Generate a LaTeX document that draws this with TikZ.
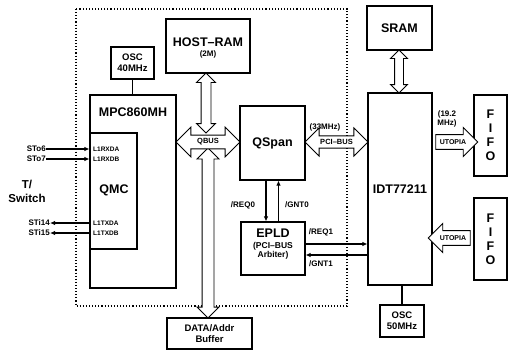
\documentclass[tikz,border=0pt]{standalone}
\usepackage{fontspec}
\setmainfont{Liberation Sans}
\usetikzlibrary{arrows.meta,positioning,shapes.arrows}

\begin{document}
\begin{tikzpicture}[x=1pt,y=-1pt,>=Latex,font=\bfseries]
\tikzset{box/.style={draw,line width=1.1pt,align=center,inner sep=0pt,fill=white},
  big/.style={font=\bfseries\fontsize{12.5}{14}\selectfont,inner sep=0pt,align=center},
  mid/.style={font=\bfseries\fontsize{9.5}{11}\selectfont,inner sep=0pt,align=center},
  lbl/.style={font=\bfseries\fontsize{8}{9}\selectfont,inner sep=0pt,align=center},
  pin/.style={font=\bfseries\fontsize{6.5}{7}\selectfont,inner sep=0pt,anchor=west},
  sig/.style={line width=1.2pt,-{Latex[length=5pt,width=4.5pt]}},
  fatbus/.style={draw,line width=0.9pt,fill=white,double arrow,double arrow head extend=8pt,
    inner xsep=0pt,inner ysep=3pt,font=\bfseries\fontsize{7.5}{8}\selectfont},
  fatlink/.style={draw,line width=0.9pt,fill=white,double arrow,inner xsep=0pt},
  fatutopia/.style={draw,line width=0.9pt,fill=white,single arrow,single arrow head extend=7pt,
    inner xsep=0pt,inner ysep=4.5pt,minimum height=42pt,font=\bfseries\fontsize{7}{8}\selectfont}}
\useasboundingbox (0,0) rectangle (509,351);
% board outline
\draw[dotted,line width=1.1pt] (76,9) rectangle (347,306);
% blocks
\node[box,minimum width=84pt,minimum height=54pt] (hostram) at (208,46) {};
\node[big] (hostramtxt) at (208,42) {HOST--RAM};
\node[lbl] (hostramsize) at (208,54) {(2M)};
\node[box,mid,minimum width=43pt,minimum height=32pt] (osca) at (132.5,63) {OSC\\40MHz};
\node[box,minimum width=86pt,minimum height=193pt] (mpc) at (133,191.5) {};
\node[big] (mpctxt) at (133,112) {MPC860MH};
\node[box,minimum width=47pt,minimum height=116pt] (qmc) at (113.5,191) {};
\node[big] (qmctxt) at (114,190) {QMC};
\node[pin] (rxa) at (93,149) {L1RXDA};
\node[pin] (rxb) at (93,159) {L1RXDB};
\node[pin] (txa) at (93,223) {L1TXDA};
\node[pin] (txb) at (93,233) {L1TXDB};
\node[box,big,minimum width=65pt,minimum height=74pt] (qspan) at (272.5,143) {QSpan};
\node[box,minimum width=64pt,minimum height=53pt] (epld) at (273,248.5) {};
\node[big] (epldtxt) at (273,233) {EPLD};
\node[lbl,font=\bfseries\fontsize{8.5}{9.5}\selectfont] (epldsub) at (273,251) {(PCI--BUS\\Arbiter)};
\node[box,big,minimum width=64pt,minimum height=192pt] (idt) at (400,189) {IDT77211};
\node[box,big,minimum width=65pt,minimum height=44pt] (sram) at (399.5,28) {SRAM};
\node[box,mid,minimum width=44pt,minimum height=32pt] (oscb) at (402,321) {OSC\\50MHz};
\node[box,big,minimum width=33pt,minimum height=81pt] (fifoa) at (490.5,135.5) {F\\I\\F\\O};
\node[box,big,minimum width=33pt,minimum height=82pt] (fifob) at (490.5,239) {F\\I\\F\\O};
\node[box,mid,minimum width=85pt,minimum height=31pt] (buffer) at (209.5,333.5) {DATA/Addr\\Buffer};
% T/Switch side
\node[font=\bfseries\fontsize{11.5}{14}\selectfont,inner sep=0pt,align=center] (tsw) at (27,191) {T/\\Switch};
\node[lbl,anchor=east] (sto6) at (46,149) {STo6};
\node[lbl,anchor=east] (sto7) at (46,159) {STo7};
\node[lbl,anchor=east] (sti14) at (50,223) {STi14};
\node[lbl,anchor=east] (sti15) at (50,233) {STi15};
\draw[sig] (sto6.east) -- (sto6.east -| qmc.west);
\draw[sig] (sto7.east) -- (sto7.east -| qmc.west);
\draw[sig] (sti14.east -| qmc.west) -- (sti14.east);
\draw[sig] (sti15.east -| qmc.west) -- (sti15.east);
% clocks
\draw[line width=1.2pt] (osca.south) -- (osca.south |- mpc.north);
\draw[line width=1.2pt] (oscb.north |- idt.south) -- (oscb.north);
% wide buses
\node[fatlink,rotate=90,minimum height=60pt,inner ysep=4.5pt,double arrow head extend=4.5pt] (ramlink) at (206,103) {};
\node[fatlink,rotate=90,minimum height=170pt,inner ysep=5.5pt,double arrow head extend=5pt] (buflink) at (208,233) {};
\node[fatlink,rotate=90,minimum height=43pt,inner ysep=4pt,double arrow head extend=4pt] (sramlink) at (399,71.5) {};
\node[fatbus,minimum height=64pt] (qbus) at (208,142) {QBUS};
\node[fatbus,minimum height=63pt] (pcibus) at (336.5,142) {PCI--BUS};
\node[lbl] (pciclk) at (325,127) {(33MHz)};
\node[fatutopia] (utopiaa) at (453,142) {UTOPIA};
\node[fatutopia,shape border rotate=180] (utopiab) at (453,238) {UTOPIA};
\node[lbl] (utopiaclk) at (447,119) {(19.2\\MHz)};
% arbiter lines
\draw[sig] ([xshift=-6.5pt]qspan.south) -- ([xshift=-6.5pt]qspan.south |- epld.north);
\draw[sig] ([xshift=5.5pt]epld.north) -- ([xshift=5.5pt]epld.north |- qspan.south);
\node[lbl] (req0) at (243,205) {/REQ0};
\node[lbl] (gnt0) at (297,205) {/GNT0};
\coordinate (r1) at ([yshift=-6.5pt]epld.east);
\coordinate (g1) at ([yshift=4.5pt]epld.east);
\draw[sig] (idt.west |- r1) -- (r1);
\draw[sig] (g1) -- (idt.west |- g1);
\node[lbl] (req1) at (321,232) {/REQ1};
\node[lbl] (gnt1) at (321,264) {/GNT1};
\end{tikzpicture}
\end{document}
